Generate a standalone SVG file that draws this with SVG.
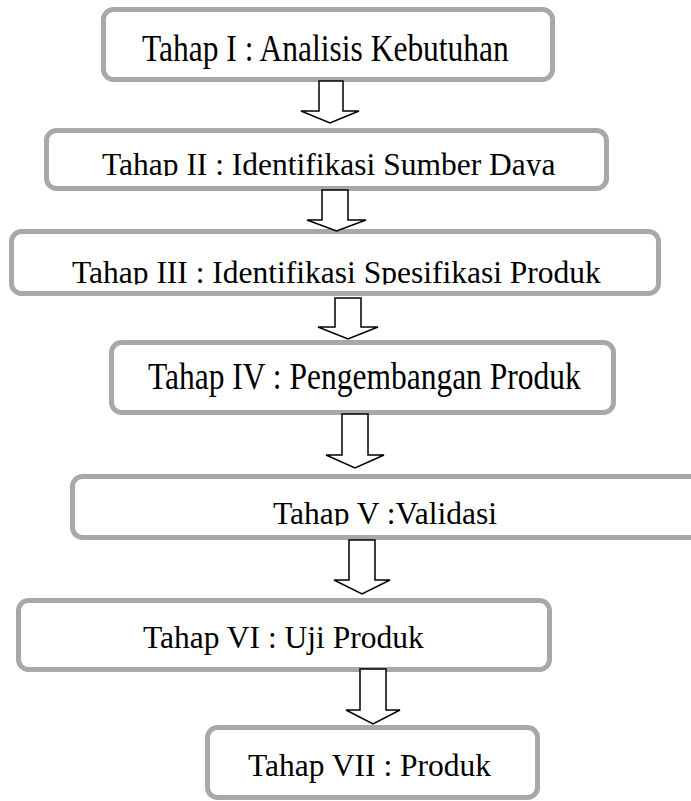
<svg xmlns="http://www.w3.org/2000/svg" width="691" height="801" viewBox="0 0 691 801">
<style>
.box{fill:#fff;stroke:#aaa7a7;stroke-width:5}
.lbl{font-family:"Liberation Serif","Times New Roman",serif;font-size:31.5px;fill:#000}
.arr{fill:#fff;stroke:#000;stroke-width:1.5;stroke-linejoin:miter}
</style>
<defs>
<clipPath id="c2"><rect x="0" y="0" width="691" height="176"/></clipPath>
<clipPath id="c3"><rect x="0" y="200" width="691" height="84.5"/></clipPath>
<clipPath id="c5"><rect x="0" y="480" width="691" height="45.5"/></clipPath>
</defs>
<rect width="691" height="801" fill="#fff"/>
<g id="n1">
<rect class="box" x="103.5" y="9.5" width="449" height="70" rx="10"/>
<text class="lbl" transform="translate(142,61) scale(1,1.18)">Tahap I : Analisis Kebutuhan</text>
</g>
<g id="n2">
<rect class="box" x="46.5" y="130.5" width="560" height="58" rx="10"/>
<text class="lbl" x="102" y="175" clip-path="url(#c2)">Tahap II : Identifikasi Sumber Daya</text>
</g>
<g id="n3">
<rect class="box" x="11.5" y="231.5" width="647" height="62" rx="10"/>
<text class="lbl" x="72" y="283" clip-path="url(#c3)">Tahap III : Identifikasi Spesifikasi Produk</text>
</g>
<g id="n4">
<rect class="box" x="111.5" y="342.5" width="502" height="70" rx="10"/>
<text class="lbl" transform="translate(148,389) scale(1,1.18)">Tahap IV : Pengembangan Produk</text>
</g>
<g id="n5">
<rect class="box" x="72.5" y="476.5" width="700" height="61" rx="10"/>
<text class="lbl" x="273" y="524" clip-path="url(#c5)">Tahap V :Validasi</text>
</g>
<g id="n6">
<rect class="box" x="18.5" y="600.5" width="531" height="69" rx="10"/>
<text class="lbl" x="143" y="648">Tahap VI : Uji Produk</text>
</g>
<g id="n7">
<rect class="box" x="207.5" y="727.5" width="330" height="70" rx="10"/>
<text class="lbl" x="248" y="776">Tahap VII : Produk</text>
</g>
<g id="connectors">
<polygon class="arr" points="319,81 343,81 343,111 359,111 330,123 301,111 319,111"/>
<polygon class="arr" points="322,190 348,190 348,220 366,220 336.5,231 307,220 322,220"/>
<polygon class="arr" points="335,298 361,298 361,327 378,327 348,339 318,327 335,327"/>
<polygon class="arr" points="342,414 368,414 368,455 384,455 355,468 326,455 342,455"/>
<polygon class="arr" points="349,540 375,540 375,580 390,580 362,594 334,580 349,580"/>
<polygon class="arr" points="360,669 386,669 386,710 400,710 373,724 346,710 360,710"/>
</g>
</svg>
